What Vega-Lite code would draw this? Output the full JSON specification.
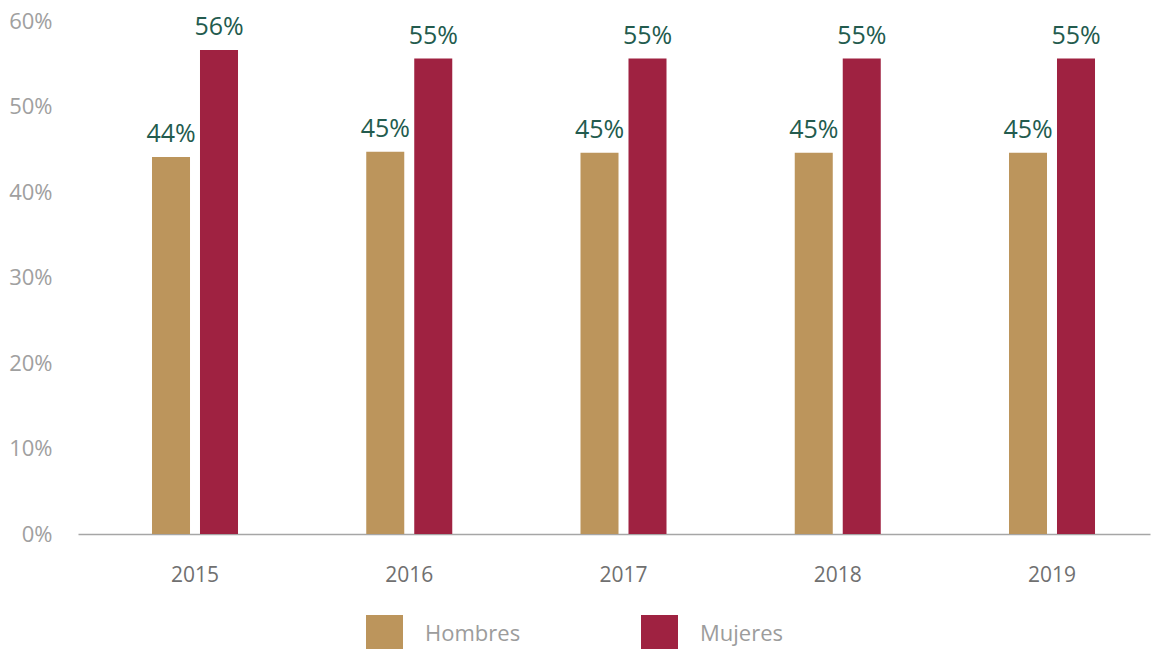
{
  "$schema": "https://vega.github.io/schema/vega-lite/v6.json",
  "width": 1072,
  "height": 513,
  "autosize": {"type": "none"},
  "padding": {"left": 78, "top": 21, "right": 10, "bottom": 115},
  "background": "white",
  "config": {
    "font": "Open Sans",
    "view": {"stroke": null}
  },
  "data": {
    "values": [
      {"anio": "2015", "sexo": "Hombres", "valor": 0.441, "etiqueta": "44%"},
      {"anio": "2015", "sexo": "Mujeres", "valor": 0.566, "etiqueta": "56%"},
      {"anio": "2016", "sexo": "Hombres", "valor": 0.447, "etiqueta": "45%"},
      {"anio": "2016", "sexo": "Mujeres", "valor": 0.556, "etiqueta": "55%"},
      {"anio": "2017", "sexo": "Hombres", "valor": 0.446, "etiqueta": "45%"},
      {"anio": "2017", "sexo": "Mujeres", "valor": 0.556, "etiqueta": "55%"},
      {"anio": "2018", "sexo": "Hombres", "valor": 0.446, "etiqueta": "45%"},
      {"anio": "2018", "sexo": "Mujeres", "valor": 0.556, "etiqueta": "55%"},
      {"anio": "2019", "sexo": "Hombres", "valor": 0.446, "etiqueta": "45%"},
      {"anio": "2019", "sexo": "Mujeres", "valor": 0.556, "etiqueta": "55%"}
    ]
  },
  "encoding": {
    "x": {
      "field": "anio",
      "type": "nominal",
      "scale": {"paddingInner": 0.1505, "paddingOuter": 0.077, "align": 0.788},
      "axis": {
        "title": null,
        "labelAngle": 0,
        "ticks": false,
        "tickSize": 0,
        "labelPadding": 30,
        "labelFontSize": 21,
        "labelColor": "#707070",
        "domainColor": "#A6A6A6",
        "domainWidth": 1.5
      }
    },
    "xOffset": {
      "field": "sexo",
      "type": "nominal",
      "sort": ["Hombres", "Mujeres"],
      "scale": {"paddingInner": 0.208, "paddingOuter": 1}
    },
    "y": {
      "field": "valor",
      "type": "quantitative",
      "scale": {"domain": [0, 0.6], "nice": false},
      "axis": {
        "title": null,
        "values": [0, 0.1, 0.2, 0.3, 0.4, 0.5, 0.6],
        "format": ".0%",
        "grid": false,
        "domain": false,
        "ticks": false,
        "labelPadding": 26,
        "labelFontSize": 22,
        "labelColor": "#A0A0A0"
      }
    }
  },
  "layer": [
    {
      "mark": {"type": "bar"},
      "encoding": {
        "color": {
          "field": "sexo",
          "type": "nominal",
          "scale": {"domain": ["Hombres", "Mujeres"], "range": ["#BC955C", "#9F2241"]},
          "legend": {
            "title": null,
            "orient": "none",
            "legendX": 288,
            "legendY": 594,
            "direction": "horizontal",
            "symbolType": "square",
            "symbolSize": 1369,
            "symbolStrokeWidth": 0,
            "labelOffset": 22,
            "columnPadding": 120,
            "padding": 0,
            "labelFontSize": 22,
            "labelColor": "#9C9C9C"
          }
        }
      }
    },
    {
      "mark": {"type": "text", "baseline": "alphabetic", "dy": -15, "fontSize": 25, "color": "#235B4E"},
      "encoding": {
        "text": {"field": "etiqueta", "type": "nominal"}
      }
    }
  ]
}
